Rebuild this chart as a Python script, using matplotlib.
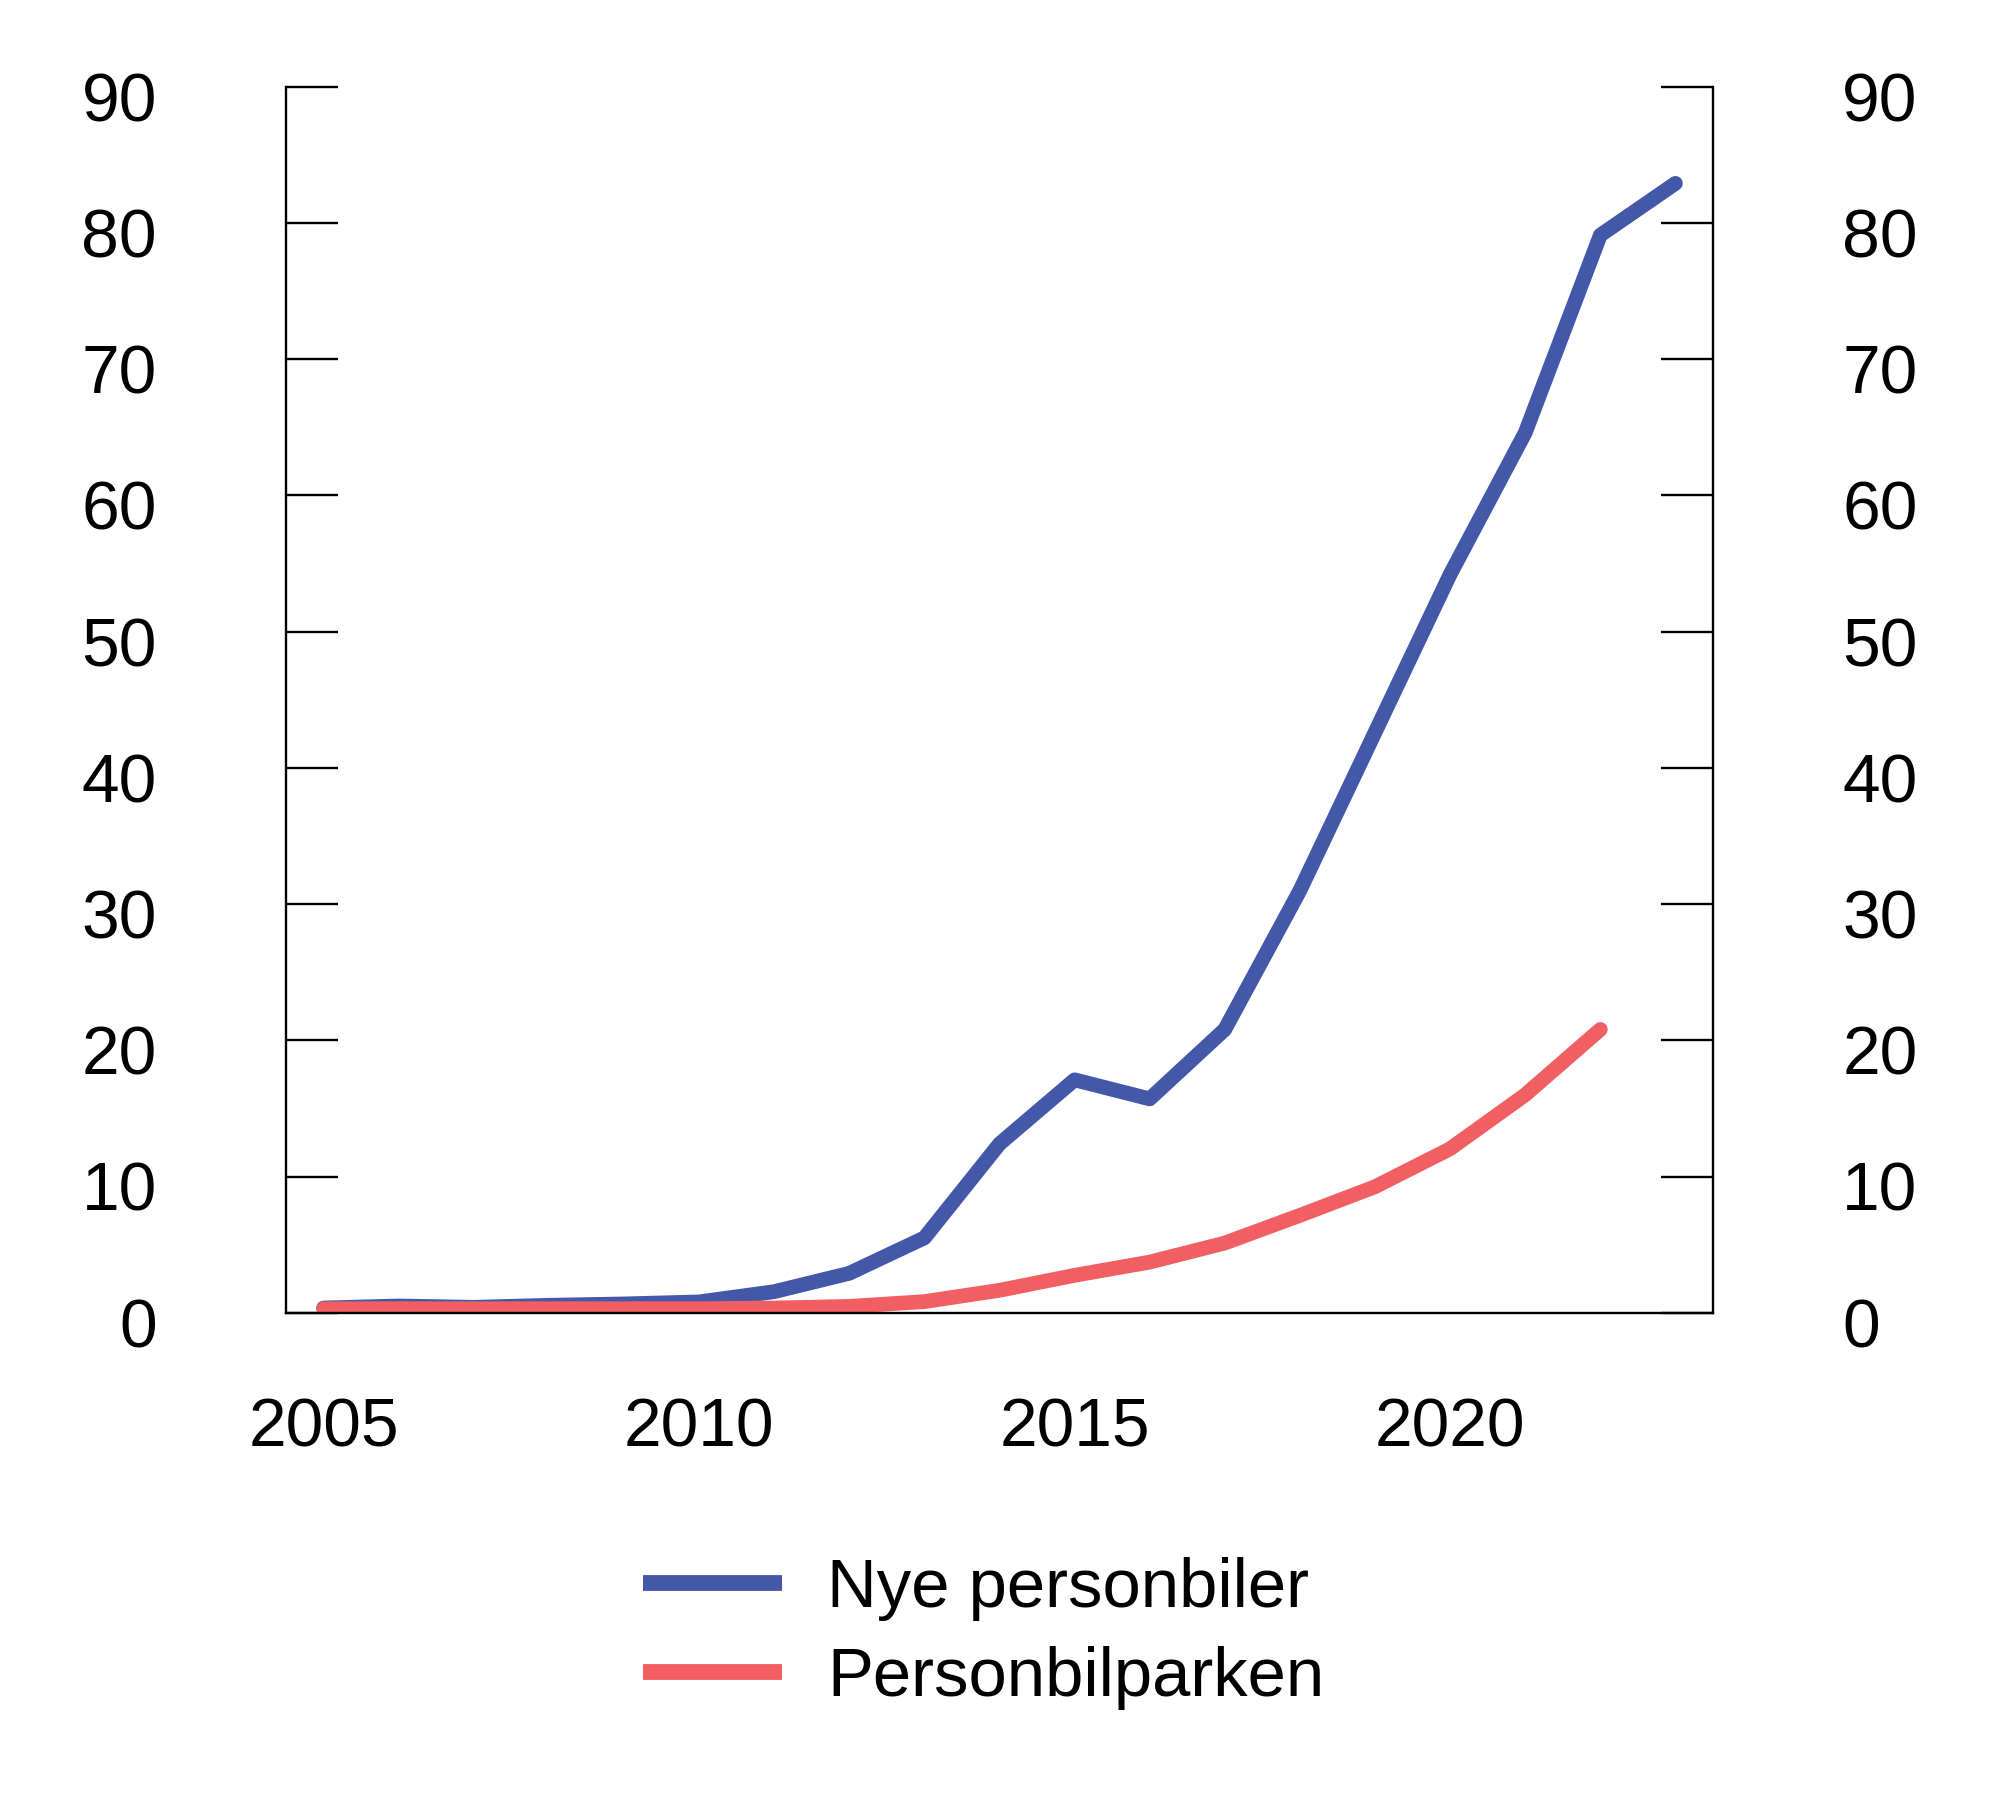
import matplotlib
matplotlib.use("Agg")
import matplotlib.pyplot as plt
import matplotlib.transforms as mtransforms
from matplotlib.lines import Line2D

plt.rcParams['font.family'] = ['Liberation Sans', 'DejaVu Sans']

years_nye = list(range(2005, 2024))
nye_personbiler = [0.35, 0.5, 0.4, 0.55, 0.65, 0.8, 1.55, 2.9, 5.5, 12.4, 17.1,
                   15.7, 20.8, 31.0, 42.6, 54.2, 64.6, 79.1, 82.9]
years_park = list(range(2005, 2023))
personbilparken = [0.3, 0.3, 0.3, 0.3, 0.3, 0.3, 0.35, 0.47, 0.82, 1.65, 2.75,
                   3.72, 5.12, 7.15, 9.25, 12.04, 16.0, 20.8]

x_ticks = [2005, 2010, 2015, 2020]
y_ticks = [0, 10, 20, 30, 40, 50, 60, 70, 80, 90]
labels = ['Nye personbiler', 'Personbilparken']

BLUE = '#4358A8'
RED = '#F15F63'
FS = 24.4
LW = 5.3

fig = plt.figure(figsize=(10, 9.08), dpi=200)
ax = fig.add_axes([0.143, 0.2771, 0.7135, 0.6752])

ax.plot(years_nye, nye_personbiler, color=BLUE, lw=LW,
        solid_capstyle='round', solid_joinstyle='round')
ax.plot(years_park, personbilparken, color=RED, lw=LW,
        solid_capstyle='round', solid_joinstyle='round')

ax.set_xlim(2004.5, 2023.5)
ax.set_ylim(0, 90)
ax.set_xticks(x_ticks)
ax.set_xticklabels([str(v) for v in x_ticks])
ax.set_yticks(y_ticks)
ax.set_yticklabels([str(v) for v in y_ticks])

for s in ['left', 'right', 'bottom']:
    ax.spines[s].set_linewidth(0.85)
    ax.spines[s].set_color('black')
ax.spines['top'].set_visible(False)

ax.tick_params(axis='y', which='both', direction='in', length=18.7, width=0.85,
               left=True, right=True, labelleft=True, labelright=True,
               labelsize=FS, pad=46.5)
ax.tick_params(axis='x', length=0, labelsize=FS, pad=30)

offset = mtransforms.ScaledTranslation(0, -3.4 / 72, fig.dpi_scale_trans)
for tick in ax.yaxis.get_major_ticks():
    tick.label1.set_transform(tick.label1.get_transform() + offset)
    tick.label2.set_transform(tick.label2.get_transform() + offset)

handles = [Line2D([], [], color=BLUE, lw=5.7, solid_capstyle='butt'),
           Line2D([], [], color=RED, lw=5.7, solid_capstyle='butt')]
fig.legend(handles, labels, loc='center left', bbox_to_anchor=(0.3215, 0.1005),
           frameon=False, fontsize=24.8, handlelength=2.02, handletextpad=0.65,
           labelspacing=0.36, borderpad=0, borderaxespad=0)

fig.savefig('out.png', dpi=200, facecolor='white')
